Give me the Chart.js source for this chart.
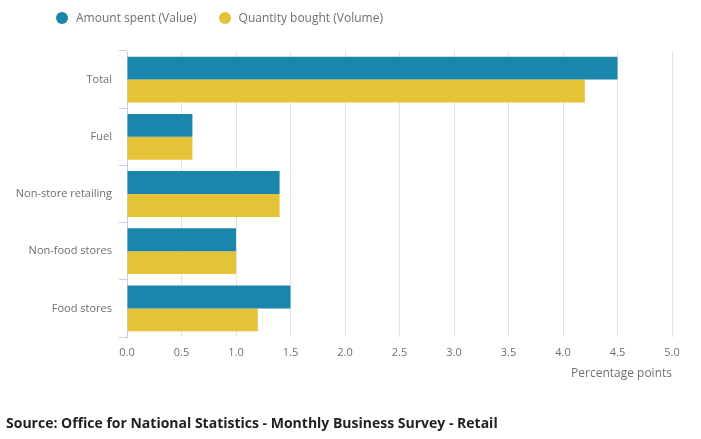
<!DOCTYPE html>
<html lang="en">
<head>
    <meta charset="UTF-8">
    <title>Retail contributions</title>
    <script src="https://cdn.jsdelivr.net/npm/chart.js"></script>
    <style>
        body { margin: 0; font-family: 'Open Sans', sans-serif; background: #fff; }
        .wrap { position: relative; width: 701px; height: 439px; }
        .legend { position: absolute; left: 56px; top: 9px; display: flex; font-size: 12px; color: #6d6e72; }
        .legend span { display: flex; align-items: center; margin-right: 22px; }
        .legend i { display: inline-block; width: 12px; height: 12px; border-radius: 50%; margin-right: 8px; }
        .source { position: absolute; left: 6px; top: 413px; font-size: 14px; font-weight: 700; color: #222; }
    </style>
</head>
<body>
    <div class="wrap">
        <canvas id="chart" width="701" height="439"></canvas>
        <div class="legend" id="legend"></div>
        <div class="source">Source: Office for National Statistics - Monthly Business Survey - Retail</div>
    </div>
    <script>
        const categories = ['Total', 'Fuel', 'Non-store retailing', 'Non-food stores', 'Food stores'];
        const valueSeries = [4.5, 0.6, 1.4, 1.0, 1.5];
        const volumeSeries = [4.2, 0.6, 1.4, 1.0, 1.2];
        const seriesNames = ['Amount spent (Value)', 'Quantity bought (Volume)'];
        const seriesColours = ['#1b86ab', '#e4c336'];

        // html legend
        const legend = document.getElementById('legend');
        seriesNames.forEach((name, i) => {
            const s = document.createElement('span');
            s.innerHTML = '<i style="background:' + seriesColours[i] + '"></i>' + name;
            legend.appendChild(s);
        });

        new Chart(document.getElementById('chart'), {
            type: 'bar',
            data: {
                labels: categories,
                datasets: [
                    { label: seriesNames[0], data: valueSeries, backgroundColor: seriesColours[0] },
                    { label: seriesNames[1], data: volumeSeries, backgroundColor: seriesColours[1] }
                ]
            },
            options: {
                indexAxis: 'y',
                responsive: false,
                animation: false,
                categoryPercentage: 0.8,
                barPercentage: 1.0,
                layout: { padding: { top: 51, right: 29, bottom: 52, left: 0 } },
                plugins: { legend: { display: false }, tooltip: { enabled: false } },
                scales: {
                    x: {
                        min: 0,
                        max: 5,
                        ticks: {
                            stepSize: 0.5,
                            padding: 9,
                            color: '#707071',
                            font: { family: 'Open Sans', size: 11 },
                            callback: v => v.toFixed(1)
                        },
                        grid: { color: '#e2e2e2', drawTicks: false },
                        border: { display: false },
                        title: {
                            display: true,
                            text: 'Percentage points',
                            align: 'end',
                            color: '#707071',
                            font: { family: 'Open Sans', size: 12 },
                            padding: { top: 0, bottom: 6 }
                        },
                        afterFit: s => { s.height = 50; }
                    },
                    y: {
                        ticks: {
                            padding: 7,
                            color: '#6d6e72',
                            font: { family: 'Open Sans', size: 11 }
                        },
                        grid: { drawOnChartArea: false, tickLength: 8, color: '#c6d0e4' },
                        border: { color: '#c6d0e4' },
                        afterFit: s => { s.width = 127; }
                    }
                }
            }
        });
    </script>
</body>
</html>
